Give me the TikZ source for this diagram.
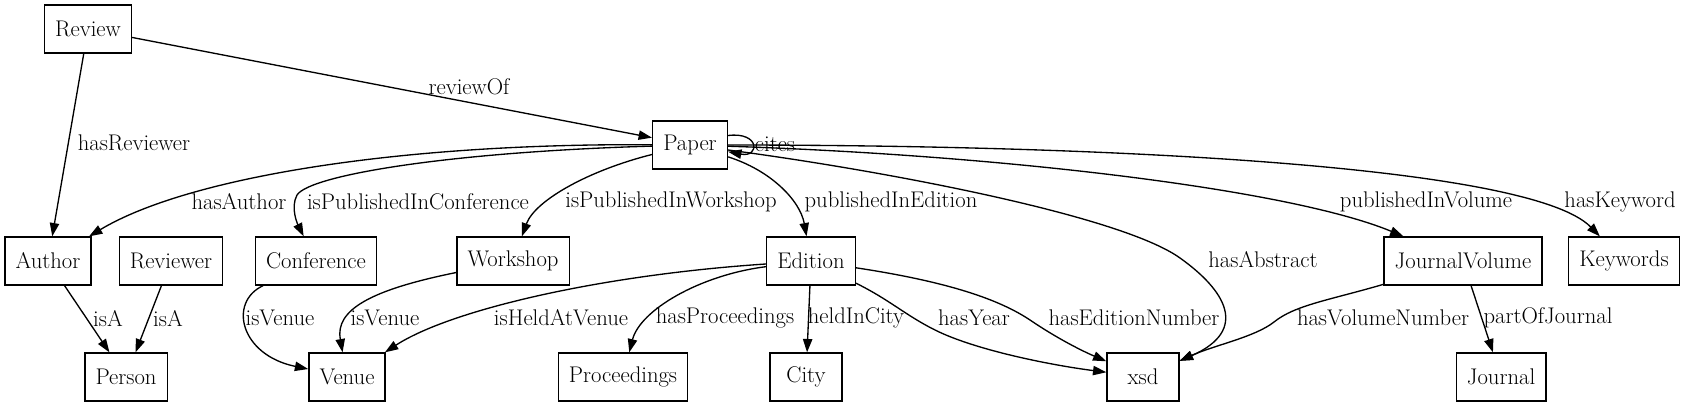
\documentclass[tikz,border=0pt]{standalone}
\usetikzlibrary{arrows.meta,calc}

\begin{document}
\begin{tikzpicture}[x=0.75pt,y=-0.75pt,
    cls/.style={draw,line width=1pt,minimum width=54pt,minimum height=36pt,inner xsep=8pt,font=\fontsize{17}{20}\selectfont},
    rel/.style={-{Triangle[length=10pt,width=7pt]},line width=1pt},
    lbl/.style={inner sep=0pt,font=\fontsize{17}{20}\selectfont}]
    % Ontologie des publications
    \useasboundingbox (0,0) rectangle (1687,407);
    \node[cls] (review) at (88,29) {Review};
    \node[cls] (paper) at (690,145) {Paper};
    \node[cls] (author) at (48,261) {Author};
    \node[cls] (reviewer) at (171,261) {Reviewer};
    \node[cls] (conference) at (316,261) {Conference};
    \node[cls] (workshop) at (513,261) {Workshop};
    \node[cls] (edition) at (811,261) {Edition};
    \node[cls] (journalvolume) at (1463,261) {JournalVolume};
    \node[cls] (keywords) at (1624,261) {Keywords};
    \node[cls] (person) at (126,377) {Person};
    \node[cls] (venue) at (347,377) {Venue};
    \node[cls] (proceedings) at (623,377) {Proceedings};
    \node[cls] (city) at (806,377) {City};
    \node[cls] (xsd) at (1143,377) {xsd};
    \node[cls] (journal) at (1501,377) {Journal};

    \draw[rel] (review) -- (paper) node[lbl] at (469,87) {reviewOf};
    \draw[rel] (review) -- (author) node[lbl] at (134,143) {hasReviewer};
    \draw[rel] (paper.14) .. controls +(32,-4) and +(32,6) .. (paper.-10) node[lbl] at (775,144) {cites};
    \draw[rel] (paper) .. controls (400,143) and (188,177) .. (author) node[lbl] at (239,202) {hasAuthor};
    \draw[rel] (paper) .. controls (450,152) and (310,175) .. (297,195) .. controls (290,208) and (298,225) .. (conference) node[lbl] at (418,202) {isPublishedInConference};
    \draw[rel] (paper) .. controls (590,170) and (535,200) .. (workshop) node[lbl] at (671,202) {isPublishedInWorkshop};
    \draw[rel] (paper) .. controls (770,170) and (800,200) .. (edition) node[lbl] at (891,202) {publishedInEdition};
    \draw[rel] (paper) .. controls (880,170) and (1120,215) .. (1180,258) .. controls (1225,290) and (1250,330) .. (xsd) node[lbl] at (1263,260) {hasAbstract};
    \draw[rel] (paper) .. controls (1000,155) and (1289,189) .. (journalvolume) node[lbl] at (1426,202) {publishedInVolume};
    \draw[rel] (paper) .. controls (1100,145) and (1530,165) .. (keywords) node[lbl] at (1620,202) {hasKeyword};
    \draw[rel] (author) -- (person) node[lbl] at (108,319) {isA};
    \draw[rel] (reviewer) -- (person) node[lbl] at (168,319) {isA};
    \draw[rel] (conference) .. controls (228,302) and (240,355) .. (venue) node[lbl] at (280,318) {isVenue};
    \draw[rel] (workshop) .. controls (370,290) and (335,310) .. (venue) node[lbl] at (385,318) {isVenue};
    \draw[rel] (edition) .. controls (600,275) and (450,310) .. (venue) node[lbl] at (561,318) {isHeldAtVenue};
    \draw[rel] (edition) .. controls (700,275) and (640,310) .. (proceedings) node[lbl] at (725,318) {hasProceedings};
    \draw[rel] (edition) -- (city) node[lbl] at (856,318) {heldInCity};
    \draw[rel] (edition) .. controls (890,300) and (905,315) .. (935,330) .. controls (975,350) and (1050,365) .. (xsd) node[lbl] at (974,318) {hasYear};
    \draw[rel] (edition) .. controls (950,282) and (1000,300) .. (1030,320) .. controls (1055,337) and (1080,350) .. (xsd) node[lbl] at (1134,318) {hasEditionNumber};
    \draw[rel] (journalvolume) .. controls (1330,300) and (1295,305) .. (1274,322) .. controls (1255,337) and (1215,345) .. (xsd) node[lbl] at (1383,318) {hasVolumeNumber};
    \draw[rel] (journalvolume) -- (journal) node[lbl] at (1548,318) {partOfJournal};
\end{tikzpicture}
\end{document}
